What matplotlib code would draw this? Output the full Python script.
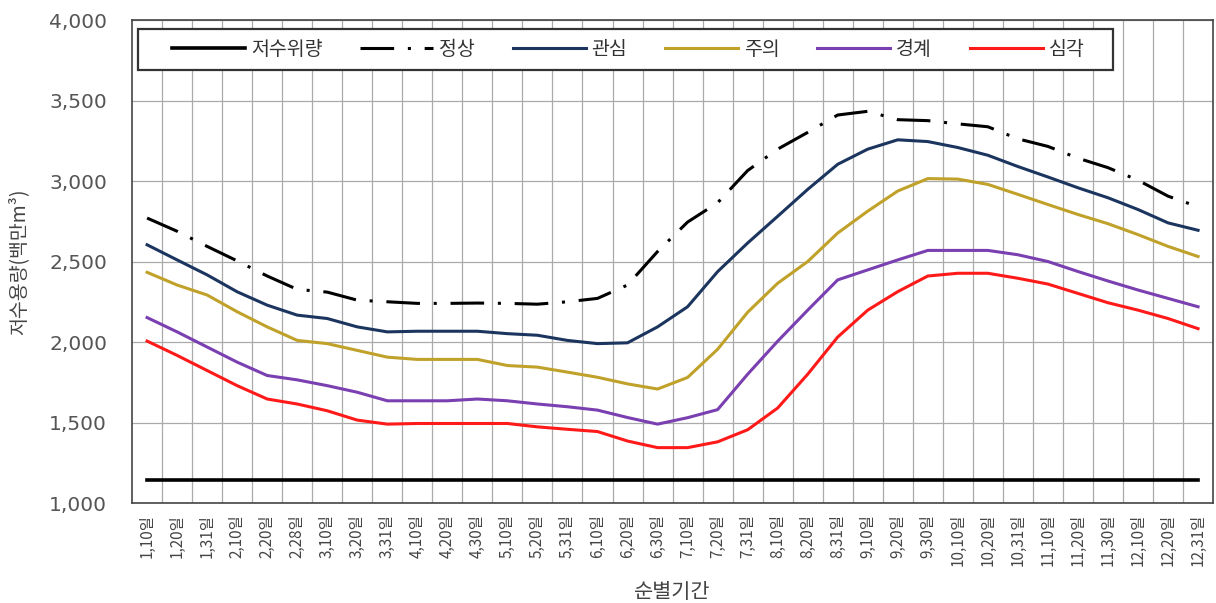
import matplotlib
matplotlib.use("Agg")
import matplotlib.pyplot as plt
from matplotlib.ticker import FuncFormatter, MultipleLocator
from matplotlib.patches import Rectangle
import numpy as np

plt.rcParams['font.family'] = ['Noto Sans CJK KR', 'DejaVu Sans']

# 순별 기간 (36개)
periods = ["1,10일", "1,20일", "1,31일", "2,10일", "2,20일", "2,28일",
           "3,10일", "3,20일", "3,31일", "4,10일", "4,20일", "4,30일",
           "5,10일", "5,20일", "5,31일", "6,10일", "6,20일", "6,30일",
           "7,10일", "7,20일", "7,31일", "8,10일", "8,20일", "8,31일",
           "9,10일", "9,20일", "9,30일", "10,10일", "10,20일", "10,31일",
           "11,10일", "11,20일", "11,30일", "12,10일", "12,20일", "12,31일"]

low_level = [1140] * 36

normal = [2770, 2688, 2594, 2504, 2410, 2327, 2310, 2260, 2250, 2240, 2240, 2242,
          2240, 2235, 2250, 2271, 2354, 2562, 2745, 2865, 3065, 3198, 3302, 3410,
          3433, 3381, 3375, 3355, 3337, 3262, 3215, 3142, 3083, 3005, 2906, 2840]

attention = [2604, 2510, 2417, 2312, 2229, 2167, 2146, 2094, 2063, 2067, 2067, 2067,
             2052, 2042, 2010, 1990, 1995, 2094, 2219, 2437, 2615, 2781, 2948, 3104,
             3198, 3256, 3245, 3208, 3160, 3090, 3025, 2958, 2896, 2823, 2740, 2694]

caution = [2433, 2354, 2292, 2188, 2094, 2010, 1990, 1948, 1906, 1892, 1892, 1892,
           1854, 1844, 1813, 1781, 1740, 1708, 1780, 1955, 2185, 2365, 2500, 2677,
           2813, 2938, 3015, 3012, 2979, 2917, 2854, 2792, 2735, 2667, 2594, 2531]

alert = [2152, 2063, 1969, 1875, 1792, 1765, 1729, 1688, 1635, 1635, 1635, 1646,
         1635, 1615, 1598, 1577, 1531, 1490, 1530, 1580, 1800, 2005, 2198, 2386,
         2448, 2510, 2569, 2569, 2569, 2542, 2500, 2438, 2379, 2323, 2271, 2219]

serious = [2006, 1917, 1823, 1729, 1646, 1615, 1573, 1515, 1490, 1494, 1494, 1494,
           1494, 1473, 1458, 1444, 1385, 1344, 1344, 1380, 1455, 1590, 1800, 2031,
           2198, 2313, 2410, 2427, 2427, 2396, 2360, 2302, 2244, 2198, 2146, 2083]

x = np.arange(len(periods))

fig = plt.figure(figsize=(12.16, 6.03), dpi=100)
ax = fig.add_axes([0.1086, 0.1658, 0.889, 0.801])

lw = 2.2
ax.plot(x, low_level, color='black', lw=2.6, label='저수위량')
ax.plot(x, normal, color='black', lw=lw, dashes=(11, 4.5, 1, 4.5), label='정상')
ax.plot(x, attention, color='#1B355F', lw=lw, label='관심')
ax.plot(x, caution, color='#C0A12A', lw=lw, label='주의')
ax.plot(x, alert, color='#7A3FB0', lw=lw, label='경계')
ax.plot(x, serious, color='#FF1A1A', lw=lw, label='심각')

ax.set_xlim(-0.5, len(periods) - 0.5)
ax.set_ylim(1000, 4000)
ax.yaxis.set_major_locator(MultipleLocator(500))
ax.yaxis.set_major_formatter(FuncFormatter(lambda v, p: f"{int(v):,}"))

ax.set_xticks(x)
ax.set_xticklabels(periods, rotation=90, fontsize=11, color='#444444')
ax.set_xticks(x[:-1] + 0.5, minor=True)
ax.tick_params(axis='x', which='both', length=0, pad=8)
ax.tick_params(axis='y', length=0, pad=18, labelsize=14.5, labelcolor='#555555')
for lab in ax.get_yticklabels():
    lab.set_family(['DejaVu Sans'])

ax.grid(True, axis='y', which='major', color='#AAAAAA', lw=0.9)
ax.grid(True, axis='x', which='minor', color='#AAAAAA', lw=0.9)
ax.set_axisbelow(True)
for s in ax.spines.values():
    s.set_color('#444444')
    s.set_linewidth(1.2)

ax.set_ylabel('저수용량(백만m³)', fontsize=14, color='#444444')
ax.yaxis.set_label_coords(-0.095, 0.5)
fig.text(0.553, 0.018, '순별기간', fontsize=15, color='#444444',
         ha='center', va='center')

# legend box drawn separately so it can be wider than the entries
ax.add_patch(Rectangle((0.0056, 0.8965), 0.9019, 0.0849, transform=ax.transAxes,
                       facecolor='white', edgecolor='#333333', lw=1.6, zorder=5))
leg = ax.legend(loc='center left', bbox_to_anchor=(0.037, 0.939), ncol=6,
                frameon=False, fontsize=14, handlelength=3.75,
                columnspacing=1.95, handletextpad=0.3, borderpad=0,
                borderaxespad=0)
leg.set_zorder(6)
for t in leg.get_texts():
    t.set_color('#333333')

fig.savefig('out.png', dpi=100)
